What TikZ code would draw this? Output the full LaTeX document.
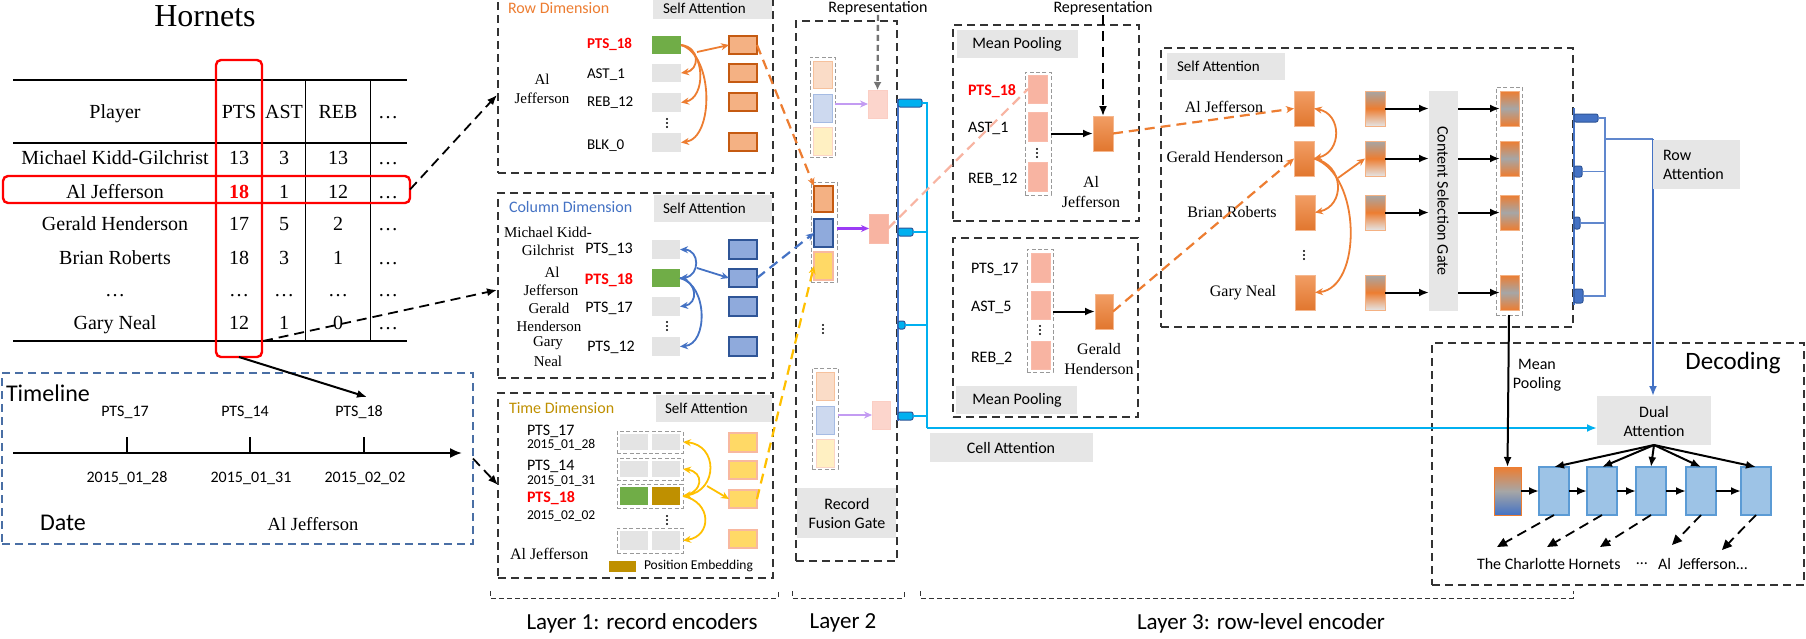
\documentclass[tikz,border=0pt]{standalone}
\usepackage{fontspec}
\setmainfont{Liberation Serif}
\setsansfont{Carlito}
\usetikzlibrary{arrows.meta,fit}
\definecolor{cOrange}{HTML}{ED7D31}
\definecolor{cOrL}{HTML}{F4B183}
\definecolor{cOrD}{HTML}{C55A11}
\definecolor{cBlue}{HTML}{4472C4}
\definecolor{cBlL}{HTML}{8FAADC}
\definecolor{cBlD}{HTML}{2F5597}
\definecolor{cYel}{HTML}{FFD966}
\definecolor{cYelB}{HTML}{F8B8A0}
\definecolor{cGold}{HTML}{BF9000}
\definecolor{cAmber}{HTML}{FFC000}
\definecolor{cGreen}{HTML}{70AD47}
\definecolor{cCell}{HTML}{E4E4E4}
\definecolor{cLab}{HTML}{E6E6E6}
\definecolor{cCyan}{HTML}{00B0F0}
\definecolor{cPink}{HTML}{F8B4A2}
\definecolor{cPinkL}{HTML}{FCD5CC}
\definecolor{cPurp}{HTML}{9B3CF5}
\definecolor{cLav}{HTML}{C39BF2}
\definecolor{cDec}{HTML}{9DC3E6}
\definecolor{cDecB}{HTML}{5B9BD5}
\definecolor{cTl}{HTML}{4A6FA5}
\definecolor{cRed}{HTML}{FF0000}
\definecolor{cGrayA}{HTML}{A6A6A6}
\newcommand\mkbox[6]{\node[fit={(#3,#4) (#5,#6)}, inner sep=0pt, #1] (#2) {};}
\newcommand\vd[2]{\fill (#1,#2-4) circle (0.55pt) (#1,#2) circle (0.55pt) (#1,#2+4) circle (0.55pt);}
\tikzset{
  every node/.style={inner sep=0pt, outer sep=0pt},
  sf/.style={font=\sffamily\fontsize{8}{9.5}\selectfont},
  sfs/.style={font=\sffamily\fontsize{7.5}{9}\selectfont},
  sfxs/.style={font=\sffamily\fontsize{6.75}{8}\selectfont},
  sfl/.style={font=\sffamily\fontsize{11.5}{13}\selectfont},
  redlab/.style={font=\sffamily\bfseries\fontsize{7.5}{9}\selectfont, text=cRed},
  redlabL/.style={font=\sffamily\bfseries\fontsize{8}{9.5}\selectfont, text=cRed},
  tb/.style={font=\rmfamily\fontsize{10}{12}\selectfont, anchor=base},
  rms/.style={font=\rmfamily\fontsize{7.5}{9.5}\selectfont},
  rmm/.style={font=\rmfamily\fontsize{8}{10}\selectfont},
  dbox/.style={draw=black!80, dash pattern=on 4pt off 2.5pt, line width=0.65pt},
  gdash/.style={draw=black!40, dash pattern=on 2pt off 1.2pt, line width=0.5pt},
  labbox/.style={fill=cLab},
  gcell/.style={fill=cCell},
  grn/.style={fill=cGreen},
  ocell/.style={fill=cOrL, draw=cOrD, line width=0.6pt},
  bcell/.style={fill=cBlL, draw=cBlD, line width=0.6pt},
  ycell/.style={fill=cYel, draw=cYelB, line width=0.6pt},
  loc/.style={fill=cOrL!45, draw=cOrL!80, line width=0.5pt},
  lbc/.style={fill=cBlL!45, draw=cBlL!80, line width=0.5pt},
  lyc/.style={fill=cYel!40, draw=cYelB!60, line width=0.5pt},
  pkL/.style={fill=cPinkL, draw=cPinkL!80!cPink, line width=0.4pt},
  pk/.style={fill=cPink, draw=cPink!90, line width=0.4pt},
  osh/.style={top color=cOrange!75!white, bottom color=cOrange!95!black, draw=cOrange!55!white, line width=0.4pt},
  c2sh/.style={top color=cGrayA, bottom color=cCell, middle color=cOrange, draw=cOrange!60!white, line width=0.5pt},
  c3sh/.style={top color=cOrange, bottom color=cOrange, middle color=cGrayA, draw=cOrange!60!white, line width=0.5pt},
  dsh/.style={top color=cOrange, bottom color=cBlue, middle color=cGrayA, draw=cOrange, line width=0.5pt},
  dcell/.style={fill=cDec, draw=cDecB, line width=0.6pt},
  mytip/.style={-{Stealth[length=4pt,width=3.5pt]}},
  mytips2/.style={{Stealth[length=4pt,width=3.5pt]}-{Stealth[length=4pt,width=3.5pt]}},
  kdash/.style={draw=black, line width=0.9pt, dash pattern=on 5pt off 3pt, -{Latex[length=5pt,width=4pt]}},
  kdashT/.style={draw=black, line width=0.9pt, dash pattern=on 5pt off 3pt, -{Triangle[length=5pt,width=4.5pt]}},
  karr/.style={draw=black, line width=1pt, -{Latex[length=5pt,width=4pt]}},
  ocur/.style={draw=cOrange, line width=0.9pt, mytip},
  bcur/.style={draw=cBlue, line width=0.9pt, mytip},
  ycur/.style={draw=cAmber, line width=0.9pt, mytip},
  cdash/.style={line width=1.1pt, dash pattern=on 5pt off 3pt},
  lbrack/.style={draw=black!80, dash pattern=on 2.5pt off 1.5pt, line width=0.5pt},
  bsq/.style={fill=cCyan, draw=cBlD, line width=0.5pt, rounded corners=1pt},
  rsq/.style={fill=cBlue, draw=cBlD, line width=0.5pt, rounded corners=1pt},
}
\begin{document}
\begin{tikzpicture}[x=0.5pt,y=-0.5pt]
\useasboundingbox (0,0) rectangle (1806,638);
\fill[white] (0,0) rectangle (1806,638);

% ---------------- Table ----------------
\node[font=\rmfamily\fontsize{16}{18}\selectfont] (title) at (205,16) {Hornets};
\draw[line width=0.6pt] (13,80) -- (407,80) (13,143) -- (407,143) (13,341) -- (407,341);
\draw[line width=0.5pt] (305,80) -- (305,341) (370,80) -- (370,341);
\node[tb] (hP) at (115,118) {Player};
\node[tb] (hPTS) at (239,118) {PTS};
\node[tb] (hAST) at (284,118) {AST};
\node[tb] (hREB) at (338,118) {REB};
\node[tb] (hDot) at (388,118) {…};
\foreach \nm/\yy/\pa/\pb/\pc [count=\i] in {Michael Kidd-Gilchrist/164/13/3/13, Gerald Henderson/230/17/5/2, Brian Roberts/264/18/3/1, …/296/…/…/…, Gary Neal/329/12/1/0}{
  \node[tb] (tn\i) at (115,\yy) {\nm};
  \node[tb] (tp\i) at (239,\yy) {\pa};
  \node[tb] (ta\i) at (284,\yy) {\pb};
  \node[tb] (tr\i) at (338,\yy) {\pc};
  \node[tb] (td\i) at (388,\yy) {…};
}
\node[tb] (ajN) at (115,198) {Al Jefferson};
\node[tb, font=\rmfamily\bfseries\fontsize{10}{12}\selectfont, text=cRed] (ajP) at (239,198) {18};
\node[tb] (ajA) at (284,198) {1};
\node[tb] (ajR) at (338,198) {12};
\node[tb] (ajD) at (388,198) {…};
\mkbox{draw=cRed, line width=1.2pt, rounded corners=2.5pt}{colsel}{216}{60}{262}{357}
\mkbox{draw=cRed, line width=1.2pt, rounded corners=2.5pt}{rowsel}{3}{176}{410}{203}

% ---------------- Timeline ----------------
\mkbox{draw=cTl, dash pattern=on 4pt off 2.5pt, line width=0.6pt}{tlbox}{2}{373}{473}{544}
\node[font=\sffamily\fontsize{12}{14}\selectfont, anchor=west] (tlT) at (6,393) {Timeline};
\coordinate (ax0) at (13,453); \coordinate (ax1) at (462,453);
\draw[line width=1pt, -{Latex[length=6pt,width=5pt]}] (ax0) -- (ax1);
\foreach \xt/\xl/\xd/\pp/\dd [count=\i] in {127/125/127/17/2015\_01\_28, 250/245/251/14/2015\_01\_31, 364/359/365/18/2015\_02\_02}{
  \draw[line width=1.2pt] (\xt,437) -- (\xt,453);
  \node[sf] (tlp\i) at (\xl,412) {PTS\_\pp};
  \node[sf] (tld\i) at (\xd,478) {\dd};
}
\node[font=\sffamily\fontsize{12}{14}\selectfont] (tlD) at (63,523) {Date};
\node[font=\rmfamily\fontsize{9.25}{11}\selectfont] (tlA) at (313,524) {Al Jefferson};
\coordinate (tltip) at (367,397);
\draw[karr] (colsel.south) -- (tltip);

% table -> layer 1
\coordinate (k1b) at (497,95);
\draw[kdash] (rowsel.east) -- (k1b);
\coordinate (k2a) at (263,341); \coordinate (k2b) at (497,290);
\draw[kdash] (k2a) -- (k2b);
\coordinate (k3b) at (498,485);
\draw[kdash] (tlbox.east) -- (k3b);

% ---------------- Row dimension ----------------
\mkbox{dbox}{rowdim}{498}{-8}{773}{173}
\mkbox{labbox}{rdSA}{653}{-8}{772}{19}
\node[sf, text=cOrange, anchor=west] (rdT) at (508,8) {Row Dimension};
\node[sfs, anchor=west] (rdSAt) at (663,8) {Self Attention};
\node[rms, align=center] (rdN) at (542,89) {Al\\Jefferson};
\node[redlab, anchor=west] (rdL1) at (587,44) {PTS\_18};
\node[sfs, anchor=west] (rdL2) at (587,75) {AST\_1};
\node[sfs, anchor=west] (rdL3) at (587,103) {REB\_12};
\node[sfs, anchor=west] (rdL4) at (587,146) {BLK\_0};
\mkbox{grn}{rdG}{652}{36}{681}{54}
\mkbox{gcell}{rdC2}{652}{64}{681}{82}
\mkbox{gcell}{rdC3}{652}{93}{681}{112}
\mkbox{gcell}{rdC4}{652}{133}{681}{152}
\vd{667}{123}
\mkbox{ocell}{rdO1}{729}{36}{757}{54}
\mkbox{ocell}{rdO2}{729}{64}{757}{82}
\mkbox{ocell}{rdO3}{729}{93}{757}{111}
\mkbox{ocell}{rdO4}{729}{133}{757}{151}
\draw[ocur] (rdG.east) .. controls (700,47) and (700,70) .. (rdC2.east);
\draw[ocur] (rdG.east) .. controls (706,50) and (706,98) .. (rdC3.east);
\draw[ocur] (rdG.east) .. controls (714,55) and (714,138) .. (rdC4.east);
\coordinate (rdJ) at (697,52);
\draw[ocur] (rdJ) -- (rdO1.west);

% ---------------- Column dimension ----------------
\mkbox{dbox}{coldim}{498}{193}{773}{378}
\mkbox{labbox}{cdSA}{654}{195}{772}{222}
\node[sf, text=cBlue, anchor=west] (cdT) at (509,207) {Column Dimension};
\node[sfs, anchor=west] (cdSAt) at (663,208) {Self Attention};
\node[rms] (cdn1) at (548,232) {Michael Kidd-};
\node[rms] (cdn2) at (548,250) {Gilchrist};
\node[rms] (cdn3) at (552,272) {Al};
\node[rms] (cdn4) at (551,290) {Jefferson};
\node[rms] (cdn5) at (549,308) {Gerald};
\node[rms] (cdn6) at (549,326) {Henderson};
\node[rms] (cdn7) at (548,343) {Gary};
\node[rms] (cdn8) at (548,361) {Neal};
\node[sf] (cdl1) at (609,249) {PTS\_13};
\node[redlabL] (cdl2) at (609,280) {PTS\_18};
\node[sf] (cdl3) at (609,308) {PTS\_17};
\node[sf] (cdl4) at (611,347) {PTS\_12};
\mkbox{gcell}{cdC1}{652}{240}{680}{259}
\mkbox{grn}{cdG}{652}{269}{680}{287}
\mkbox{gcell}{cdC3}{652}{297}{680}{316}
\mkbox{gcell}{cdC4}{652}{337}{680}{356}
\vd{667}{326}
\mkbox{bcell}{cdB1}{729}{240}{757}{259}
\mkbox{bcell}{cdB2}{729}{269}{757}{287}
\mkbox{bcell}{cdB3}{729}{297}{757}{316}
\mkbox{bcell}{cdB4}{729}{337}{757}{356}
\draw[bcur, mytips2] (cdC1.east) .. controls (700,250) and (700,276) .. (cdG.east);
\draw[bcur] (cdG.east) .. controls (698,282) and (698,304) .. (cdC3.east);
\draw[bcur] (cdG.east) .. controls (708,285) and (708,344) .. (cdC4.east);
\coordinate (cdJ) at (697,268);
\draw[bcur] (cdJ) -- (cdB2.west);

% ---------------- Time dimension ----------------
\mkbox{dbox}{timedim}{498}{393}{773}{578}
\mkbox{labbox}{tdSA}{656}{395}{772}{422}
\node[sf, text=cGold, anchor=west] (tdT) at (509,408) {Time Dimension};
\node[sfs, anchor=west] (tdSAt) at (665,408) {Self Attention};
\node[sf, anchor=west] (tdl1) at (527,431) {PTS\_17};
\node[sfxs, anchor=west] (tdd1) at (527,445) {2015\_01\_28};
\node[sf, anchor=west] (tdl2) at (527,466) {PTS\_14};
\node[sfxs, anchor=west] (tdd2) at (527,481) {2015\_01\_31};
\node[redlabL, anchor=west] (tdl3) at (527,498) {PTS\_18};
\node[sfxs, anchor=west] (tdd3) at (527,516) {2015\_02\_02};
\node[rmm, anchor=west] (tdN) at (510,554) {Al Jefferson};
\mkbox{gdash}{tdP1}{617}{431}{683}{453}
\mkbox{gdash}{tdP2}{617}{458}{683}{480}
\mkbox{gdash}{tdP3}{617}{484}{683}{508}
\mkbox{gdash}{tdP4}{617}{528}{683}{553}
\mkbox{gcell}{tdc1a}{620}{434}{648}{450}
\mkbox{gcell}{tdc1b}{652}{434}{680}{450}
\mkbox{gcell}{tdc2a}{620}{461}{648}{477}
\mkbox{gcell}{tdc2b}{652}{461}{680}{477}
\mkbox{grn}{tdc3a}{620}{487}{648}{505}
\mkbox{fill=cGold}{tdc3b}{652}{487}{680}{505}
\mkbox{gcell}{tdc4a}{620}{531}{648}{550}
\mkbox{gcell}{tdc4b}{652}{531}{680}{550}
\vd{667}{520}
\mkbox{ycell}{tdY1}{729}{433}{757}{452}
\mkbox{ycell}{tdY2}{729}{461}{757}{479}
\mkbox{ycell}{tdY3}{729}{490}{757}{508}
\mkbox{ycell}{tdY4}{729}{530}{757}{548}
\draw[ycur, mytips2] (tdP3.east) .. controls (718,490) and (718,445) .. (tdP1.east);
\draw[ycur] (tdP3.east) .. controls (704,492) and (704,472) .. (tdP2.east);
\draw[ycur] (tdP3.east) .. controls (712,502) and (712,536) .. (tdP4.east);
\coordinate (tdJ) at (707,486);
\draw[ycur] (tdJ) -- (tdY3.west);
\mkbox{fill=cGold}{peBox}{609}{561}{636}{572}
\node[sfxs, anchor=west] (peT) at (644,566) {Position Embedding};

% ---------------- Layer 2 ----------------
\node[sf] (rep1) at (878,8) {Representation};
\mkbox{dbox}{layer2}{796}{21}{897}{561}
\mkbox{gdash}{g1}{810}{57}{835}{157}
\mkbox{loc}{g1a}{813}{61}{832}{88}
\mkbox{lbc}{g1b}{813}{94}{832}{122}
\mkbox{lyc}{g1c}{813}{127}{832}{155}
\mkbox{pkL}{o1}{868}{90}{887}{118}
\draw[draw=cLav, line width=1.2pt, mytip] (g1.east |- o1.west) -- (o1.west);
\draw[draw=black!55, line width=1.2pt, dash pattern=on 3pt off 2pt, -{Latex[length=4pt,width=4pt]}] (rep1.south) -- (o1.north);
\mkbox{gdash}{g2}{811}{182}{837}{282}
\mkbox{ocell}{g2a}{814}{186}{833}{212}
\mkbox{bcell}{g2b}{814}{219}{833}{247}
\mkbox{ycell}{g2c}{814}{252}{833}{280}
\mkbox{pk}{o2}{869}{214}{888}{243}
\draw[draw=cPurp, line width=1.2pt, mytip] (g2.east |- o2.west) -- (o2.west);
\vd{823}{329}
\mkbox{gdash}{g3}{812}{368}{838}{469}
\mkbox{loc}{g3a}{816}{372}{834}{400}
\mkbox{lbc}{g3b}{816}{406}{834}{434}
\mkbox{lyc}{g3c}{816}{439}{834}{467}
\mkbox{pkL}{o3}{872}{401}{890}{429}
\draw[draw=cLav, line width=1.2pt, mytip] (g3.east |- o3.west) -- (o3.west);
\mkbox{labbox}{rfg}{797}{488}{896}{538}
\node[sf, align=center] (rfgT) at (847,513) {Record\\Fusion Gate};

% layer 1 -> layer 2
\draw[draw=cOrange, cdash, mytip] (rdO1.east) -- (g2a.north west);
\draw[draw=cBlue, cdash, mytip] (cdB2.east) -- (g2b.west);
\draw[draw=cAmber, cdash, mytip] (tdY3.east) -- (g2c.west);

% bus
\draw[draw=cBlue, line width=1pt] (898,99) -- (898,421);
\mkbox{bsq}{bs1}{898}{99}{922}{107}
\mkbox{bsq}{bs2}{898}{228}{913}{236}
\mkbox{bsq}{bs3}{898}{321}{905}{329}
\mkbox{bsq}{bs4}{898}{412}{913}{420}
\coordinate (bv4) at (927,428);
\draw[cCyan, line width=0.6pt] (bs1.east) -| (bv4);
\draw[cCyan, line width=0.6pt] (bs2.east) -- (bs2.east -| bv4);
\draw[cCyan, line width=0.6pt] (bs3.east) -- (bs3.east -| bv4);
\draw[cCyan, line width=0.6pt] (bs4.east) -- (bs4.east -| bv4);
\mkbox{labbox}{cellatt}{930}{433}{1093}{462}
\node[sf] (cellattT) at (1011,448) {Cell Attention};

% ---------------- Mean pooling ----------------
\node[sf] (rep2) at (1103,8) {Representation};
\mkbox{dbox}{mp1}{953}{25}{1139}{221}
\mkbox{labbox}{mp1L}{957}{30}{1078}{58}
\node[sf] (mp1Lt) at (1017,44) {Mean Pooling};
\node[redlabL, anchor=west] (mp1l1) at (968,91) {PTS\_18};
\node[sf, anchor=west] (mp1l2) at (968,128) {AST\_1};
\node[sf, anchor=west] (mp1l3) at (968,179) {REB\_12};
\mkbox{gdash}{mp1c}{1025}{72}{1051}{195}
\mkbox{pk}{mp1a}{1028}{75}{1047}{103}
\mkbox{pk}{mp1b}{1028}{112}{1047}{141}
\mkbox{pk}{mp1d}{1028}{162}{1047}{191}
\vd{1037}{153}
\mkbox{osh}{mpAJ}{1093}{116}{1113}{151}
\draw[karr] (mp1c.east |- mpAJ.west) -- (mpAJ.west);
\node[rmm, align=center] (mpAJt) at (1091,192) {Al\\Jefferson};
\draw[kdash] (rep2.south) -- (mpAJ.north);
\draw[draw=cPink, cdash] (o2.east) -- (mp1a.west);

\mkbox{dbox}{mp2}{953}{238}{1138}{417}
\mkbox{gdash}{mp2c}{1027}{249}{1053}{372}
\mkbox{pk}{mp2a}{1031}{253}{1050}{282}
\mkbox{pk}{mp2b}{1031}{291}{1050}{319}
\mkbox{pk}{mp2d}{1031}{341}{1050}{369}
\vd{1040}{330}
\node[sf, anchor=west] (mp2l1) at (971,269) {PTS\_17};
\node[sf, anchor=west] (mp2l2) at (971,307) {AST\_5};
\node[sf, anchor=west] (mp2l3) at (971,358) {REB\_2};
\mkbox{osh}{mpGH}{1095}{294}{1113}{329}
\draw[karr] (mp2c.east |- mpGH.west) -- (mpGH.west);
\node[rmm, align=center] (mpGHt) at (1099,359) {Gerald\\Henderson};
\mkbox{labbox}{mp2L}{956}{386}{1077}{414}
\node[sf] (mp2Lt) at (1017,400) {Mean Pooling};

% ---------------- Self attention (row level) ----------------
\mkbox{dbox}{sabox}{1161}{48}{1573}{327}
\mkbox{labbox}{saL}{1167}{53}{1285}{80}
\node[sfs, anchor=west] (saLt) at (1177,66) {Self Attention};
\node[rmm] (san1) at (1224,107) {Al Jefferson};
\node[rmm] (san2) at (1225,157) {Gerald Henderson};
\node[rmm] (san3) at (1232,212) {Brian Roberts};
\node[rmm] (san4) at (1243,293) {Gary Neal};
\vd{1304}{255}
\mkbox{osh}{saA}{1294}{91}{1314}{126}
\mkbox{osh}{saG}{1294}{141}{1314}{176}
\mkbox{osh}{saB}{1295}{195}{1315}{230}
\mkbox{osh}{saN}{1295}{275}{1315}{310}
\mkbox{c2sh}{sbA}{1365}{91}{1385}{126}
\mkbox{c2sh}{sbG}{1365}{141}{1385}{176}
\mkbox{c2sh}{sbB}{1365}{195}{1385}{230}
\mkbox{c2sh}{sbN}{1365}{275}{1385}{310}
\mkbox{labbox}{csg}{1429}{91}{1458}{311}
\node[sf, rotate=-90] (csgT) at (1443,201) {Content Selection Gate};
\mkbox{gdash}{sc3}{1496}{87}{1522}{315}
\mkbox{c3sh}{scA}{1500}{91}{1519}{126}
\mkbox{c3sh}{scG}{1500}{141}{1519}{176}
\mkbox{c3sh}{scB}{1500}{195}{1519}{230}
\mkbox{c3sh}{scN}{1500}{275}{1519}{310}
\foreach \r in {A,G,B,N}{
  \draw[karr] (sb\r.east) -- (csg.west |- sb\r.east);
  \draw[karr] (csg.east |- sc\r.west) -- (sc\r.west);
}
\draw[draw=cOrange, cdash, mytip] (mpAJ.east) -- (saA.west);
\draw[draw=cOrange, cdash, mytip] (mpGH.east) -- (saG.west);
\draw[ocur, mytips2] (saG.east) .. controls (1342,152) and (1342,114) .. (saA.east);
\draw[ocur] (saG.east) .. controls (1345,165) and (1345,206) .. (saB.east);
\draw[ocur] (saG.east) .. controls (1362,175) and (1362,288) .. (saN.east);
\coordinate (saJ) at (1338,178);
\draw[ocur] (saJ) -- (sbG.west);

% ---------------- Row attention ----------------
\draw[draw=cBlue, line width=1.2pt] (1574,108) -- (1574,305);
\mkbox{rsq}{ra1}{1574}{114}{1598}{122}
\mkbox{rsq}{ra2}{1574}{166}{1582}{177}
\mkbox{rsq}{ra3}{1574}{217}{1580}{229}
\mkbox{rsq}{ra4}{1574}{289}{1583}{303}
\coordinate (rv1) at (1605,118);
\draw[cBlue!85, line width=0.6pt] (ra1.east) -- (ra1.east -| rv1) -- (ra4.east -| rv1) -- (ra4.east);
\draw[cBlue!85, line width=0.6pt] (ra2.east) -- (ra2.east -| rv1);
\draw[cBlue!85, line width=0.6pt] (ra3.east) -- (ra3.east -| rv1);
\coordinate (rh) at (1605,139);
\coordinate (raW) at (1653,139);
\draw[cBlue!85, line width=0.6pt] (rh) -- (raW);

% ---------------- Decoding ----------------
\mkbox{dbox}{decbox}{1432}{343}{1804}{585}
\node[font=\sffamily\fontsize{12.5}{14}\selectfont] (decT) at (1733,363) {Decoding};
\node[sf, align=center] (mpT) at (1537,375) {Mean\\Pooling};
\mkbox{labbox}{da}{1597}{396}{1711}{445}
\draw[cBlue, line width=1.2pt, -{Latex[length=5pt,width=4pt]}] (raW) -- (raW |- da.north);
\mkbox{labbox}{raBox}{1653}{140}{1740}{189}
\node[sf, align=left, anchor=west] (raT) at (1663,165) {Row\\Attention};
\draw[cCyan, line width=1.3pt, -{Latex[length=5pt,width=4pt]}] (bv4) -- (da.west |- bv4);
\node[sf, align=center] (daT) at (1654,421) {Dual\\Attention};
\mkbox{dsh}{dec0}{1494}{467}{1521}{515}
\mkbox{dcell}{dec1}{1539}{467}{1569}{515}
\mkbox{dcell}{dec2}{1587}{467}{1617}{515}
\mkbox{dcell}{dec3}{1636}{467}{1666}{515}
\mkbox{dcell}{dec4}{1686}{467}{1716}{515}
\mkbox{dcell}{dec5}{1741}{467}{1771}{515}
\draw[karr] (sc3.south) -- (dec0.north);
\draw[karr] (dec0.east) -- (dec1.west);
\draw[karr] (dec1.east) -- (dec2.west);
\draw[karr] (dec2.east) -- (dec3.west);
\draw[karr] (dec3.east) -- (dec4.west);
\draw[karr] (dec4.east) -- (dec5.west);
\foreach \i in {1,...,5}{\draw[karr] (da.south) -- (dec\i.north);}
\coordinate (w1) at (1497,547);
\coordinate (w2) at (1547,547);
\coordinate (w3) at (1600,547);
\coordinate (w4) at (1672,545);
\coordinate (w5) at (1722,550);
\foreach \i in {1,...,5}{\draw[kdashT] (dec\i.south) -- (w\i);}
\node[sf, anchor=west] (wT1) at (1477,564) {The Charlotte Hornets};
\node[sf] (wT2) at (1642,564) {…};
\node[sf, anchor=west] (wT3) at (1658,564) {Al};
\node[sf, anchor=west] (wT4) at (1678,564) {Jefferson…};

% ---------------- Layer brackets ----------------
\draw[lbrack] (490,591) -- (490,598) -- (778,598) -- (778,591);
\draw[lbrack] (792,591) -- (792,598) -- (904,598) -- (904,591);
\draw[lbrack] (920,591) -- (920,598) -- (1573,598) -- (1573,591);
\node[sfl] (ly1) at (642,623) {Layer 1: record encoders};
\node[sfl] (ly2) at (843,623) {Layer 2};
\node[sfl] (ly3) at (1261,623) {Layer 3: row-level encoder};
\end{tikzpicture}
\end{document}
